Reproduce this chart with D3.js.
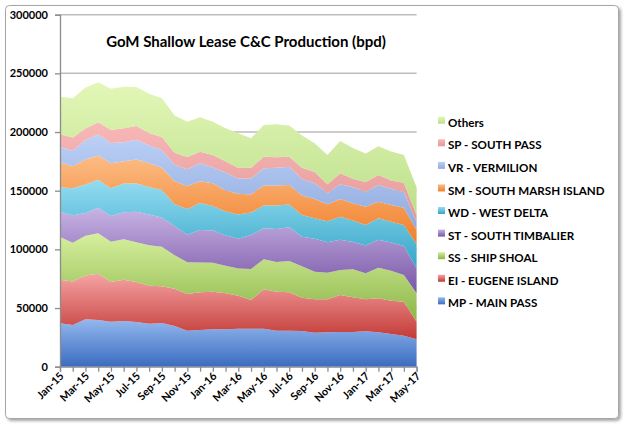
<!DOCTYPE html>
<html><head><meta charset="utf-8">
<script src="https://cdn.jsdelivr.net/npm/d3@7"></script>
<style>
html,body{margin:0;padding:0;background:#fff;}
svg{display:block;}
text{font-family:Lato,"Open Sans",sans-serif;font-weight:bold;fill:#000;}
</style></head><body>
<svg id="c" width="625" height="427"></svg>
<script>
const months = ["Jan-15","Feb-15","Mar-15","Apr-15","May-15","Jun-15","Jul-15","Aug-15","Sep-15","Oct-15","Nov-15","Dec-15",
"Jan-16","Feb-16","Mar-16","Apr-16","May-16","Jun-16","Jul-16","Aug-16","Sep-16","Oct-16","Nov-16","Dec-16",
"Jan-17","Feb-17","Mar-17","Apr-17","May-17"];
const mp = [37000,35500,40500,39800,38400,38900,38100,36600,37200,34700,30700,31300,31900,31900,32400,32400,32400,30700,30700,30400,29000,29300,29600,29600,30200,29300,27900,26400,23300];
const ei = [37100,37200,37300,39500,33800,35200,34100,32400,31300,31800,31300,32100,32000,30600,28100,24400,33600,33200,32700,28300,28400,28100,31500,29500,27200,29000,28400,29000,15100];
const ss = [36400,33000,33700,34400,34300,34500,33800,34600,33800,28500,27000,25400,24600,23500,23200,26500,25600,25400,26700,26900,23600,22700,21300,23900,22200,26100,25500,22800,24200];
const st = [21600,23300,19500,21800,21900,23000,26100,26100,24900,25000,23500,27700,27500,26000,25300,28900,26400,28000,28700,25200,28000,25900,25900,23300,23700,23900,24000,24600,21300];
const wd = [20800,23000,24200,23900,23600,24500,24000,23500,23400,18500,22000,23000,21000,20300,20700,19200,19400,20100,19400,18500,17500,17900,19500,18300,17500,18200,17800,18000,20600];
const sm = [21300,18800,21300,20700,21400,18900,20400,20400,18900,19500,19400,18500,19300,17900,17700,15400,17100,17100,16700,16700,16400,14600,15100,14700,15600,14100,14200,14700,12000];
const vr = [13300,13200,16700,17700,17300,16300,17000,14900,15200,14200,14300,15400,13700,15300,12900,13500,14600,15100,15600,14000,13400,9300,12600,13600,12800,14300,13900,13400,6800];
const sp = [10700,11300,9900,10500,11000,11900,11700,10700,11100,10100,10600,9800,10400,9500,9100,9200,9900,9000,8500,9500,9700,7800,9300,7200,8200,8500,7000,7900,6000];
const others = [31900,33400,34900,34200,35100,35400,33200,33500,32900,31800,29900,29400,28400,28200,29500,25200,27000,28100,26600,27500,24400,24800,27600,26300,24400,24400,24800,23600,23700];
const seriesNames = ["MP - MAIN PASS","EI - EUGENE ISLAND","SS - SHIP SHOAL","ST - SOUTH TIMBALIER","WD - WEST DELTA","SM - SOUTH MARSH ISLAND","VR - VERMILION","SP - SOUTH PASS","Others"];
const yTicks = [0,50000,100000,150000,200000,250000,300000];
const title = "GoM Shallow Lease C&C Production (bpd)";

const seriesValues = [mp, ei, ss, st, wd, sm, vr, sp, others];
const colors = [
  ["#94b8ee","#3a6cc0"],
  ["#f5a3a3","#c23a36"],
  ["#d6f09e","#8cb548"],
  ["#c8b3e4","#7856a6"],
  ["#93dcf2","#36a5c6"],
  ["#fcbc84","#f07f2a"],
  ["#bcd0f6","#90aadd"],
  ["#f8b8b8","#e49898"],
  ["#e3f7b8","#bcdf8a"]
];

const rows = months.map((m, i) => {
  const r = {month: m};
  seriesNames.forEach((k, j) => r[k] = seriesValues[j][i]);
  return r;
});

const svg = d3.select("#c");
const defs = svg.append("defs");
const f = defs.append("filter").attr("id","sh").attr("x","-5%").attr("y","-5%").attr("width","110%").attr("height","110%");
f.append("feDropShadow").attr("dx",2).attr("dy",2).attr("stdDeviation",1.5).attr("flood-color","#000").attr("flood-opacity",0.35);

svg.append("rect").attr("x",5.5).attr("y",5.5).attr("width",613).attr("height",413).attr("rx",4)
  .attr("fill","#fff").attr("stroke","#a6a6a6").attr("stroke-width",1).attr("filter","url(#sh)");

const x0 = 60, x1 = 416.6, yTop = 14.7, yBot = 366.7;
const x = d3.scalePoint().domain(months).range([x0, x1]);
const y = d3.scaleLinear().domain([0, 300000]).range([yBot, yTop]);

// gridlines
svg.append("g").selectAll("line").data(yTicks.filter(d => d > 0)).join("line")
  .attr("x1", x0).attr("x2", x1).attr("y1", d => y(d)).attr("y2", d => y(d))
  .attr("stroke","#bdbdbd").attr("stroke-width",1.5);

colors.forEach((c, i) => {
  const g = defs.append("linearGradient").attr("id","g"+i).attr("x1",0).attr("y1",0).attr("x2",0).attr("y2",1);
  g.append("stop").attr("offset","0%").attr("stop-color",c[0]);
  g.append("stop").attr("offset","100%").attr("stop-color",c[1]);
});

const stack = d3.stack().keys(seriesNames);
const layers = stack(rows);
const area = d3.area().x(d => x(d.data.month)).y0(d => y(d[0])).y1(d => y(d[1]));
svg.append("g").selectAll("path").data(layers).join("path")
  .attr("d", area).attr("fill", (d, i) => `url(#g${i})`);

// axes
const yAxis = d3.axisLeft(y).tickValues(yTicks).tickSize(5).tickFormat(d3.format("d"));
const ya = svg.append("g").attr("transform",`translate(${x0},0)`).call(yAxis);
ya.select(".domain").attr("stroke","#8c8c8c").attr("stroke-width",1.3);
ya.selectAll(".tick line").attr("stroke","#8c8c8c").attr("stroke-width",1.3);
ya.selectAll(".tick text").attr("x",-12).attr("font-size",11).attr("font-family","Lato").attr("font-weight","bold").attr("fill","#000");

const xAxis = d3.axisBottom(x).tickSize(5).tickFormat((d, i) => i % 2 === 0 ? d : "");
const xa = svg.append("g").attr("transform",`translate(0,${yBot})`).call(xAxis);
xa.select(".domain").attr("stroke","#8c8c8c").attr("stroke-width",1.3);
xa.selectAll(".tick line").attr("stroke","#8c8c8c").attr("stroke-width",1.3);
xa.selectAll(".tick text").attr("font-size",10.8).attr("font-family","Lato").attr("font-weight","bold").attr("fill","#000")
  .attr("text-anchor","end").attr("dy",0).attr("y",0)
  .attr("transform","translate(4,10) rotate(-45)");

// title
svg.append("text").attr("x",246).attr("y",47).attr("text-anchor","middle")
  .attr("font-size",15).text(title);

// legend (top to bottom: reverse order)
const legendItems = seriesNames.map((n, i) => ({n, i})).reverse();
const lg = svg.append("g").selectAll("g").data(legendItems).join("g")
  .attr("transform", (d, k) => `translate(438,${122.7 + k*22.58})`);
lg.append("rect").attr("x",0).attr("y",-6).attr("width",7).attr("height",7).attr("fill", d => `url(#g${d.i})`);
lg.append("text").attr("x",10).attr("y",0).attr("dy","0.35em").attr("font-size",11.6).text(d => d.n);
</script></body></html>
